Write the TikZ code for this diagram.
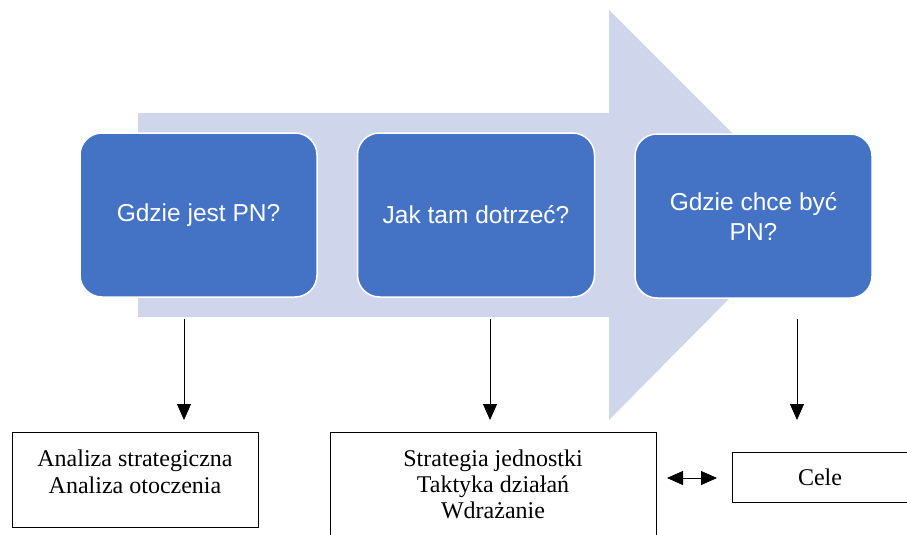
\documentclass[tikz,border=0pt]{standalone}
\usepackage{fontspec}
\setmainfont{Liberation Serif}
\newfontfamily\arialish{Liberation Sans}
\usetikzlibrary{arrows.meta}
\definecolor{bigarrow}{HTML}{CFD5EA}
\definecolor{boxblue}{HTML}{4472C4}
\tikzset{
  bluebox/.style={draw=white, line width=1.5pt, fill=boxblue, rounded corners=22pt,
    minimum width=237pt, minimum height=164pt, inner sep=0pt, text=white,
    align=center, font=\arialish\fontsize{24.5}{30}\selectfont},
  plainbox/.style={draw=black, line width=1pt, fill=white, inner sep=0pt, align=center,
    font=\fontsize{24}{26.5}\selectfont},
  conn/.style={line width=0.8pt, -{Triangle[width=14pt,length=16pt]}},
  dconn/.style={line width=0.8pt, {Triangle[width=14pt,length=16pt]}-{Triangle[width=14pt,length=16pt]}}
}
\begin{document}
\begin{tikzpicture}[x=1pt,y=-1pt]
\useasboundingbox (0,0) rectangle (907,535);
% big background arrow
\fill[bigarrow] (138,113) -- (609,113) -- (609,10) -- (813,214) -- (609,420) -- (609,317) -- (138,317) -- cycle;
% blue boxes
\node[bluebox] (b1) at (198.5,215) {Gdzie jest PN?};
\node[bluebox] (b2) at (476,215) {Jak tam dotrzeć?};
\node[bluebox] (b3) at (753.5,216) {Gdzie chce być\\PN?};
% lower boxes
\node[plainbox, minimum width=246pt, minimum height=95pt] (l1) at (135,479.5) {};
\node[anchor=center, font=\fontsize{24}{27}\selectfont, align=center] (t1) at (135,472) {Analiza strategiczna\\Analiza otoczenia};
\draw[line width=1pt, fill=white] (330,432) rectangle (656,545);
\node[anchor=center, font=\fontsize{24}{26}\selectfont, align=center] (l2) at (493,484) {Strategia jednostki\\Taktyka działań\\Wdrażanie};
\draw[line width=1pt, fill=white] (732,452) rectangle (920,502);
\node[font=\fontsize{24}{26}\selectfont] (l3) at (820,477) {Cele};
% connectors
\coordinate (a1) at (184,319);
\coordinate (e1) at (184,420);
\coordinate (a2) at (490,319);
\coordinate (e2) at (490,420);
\coordinate (a3) at (797,319);
\coordinate (e3) at (797,420);
\draw[conn] (a1) -- (e1);
\draw[conn] (a2) -- (e2);
\draw[conn] (a3) -- (e3);
\coordinate (d1) at (667,478);
\coordinate (d2) at (717,478);
\draw[dconn] (d1) -- (d2);
\end{tikzpicture}
\end{document}
